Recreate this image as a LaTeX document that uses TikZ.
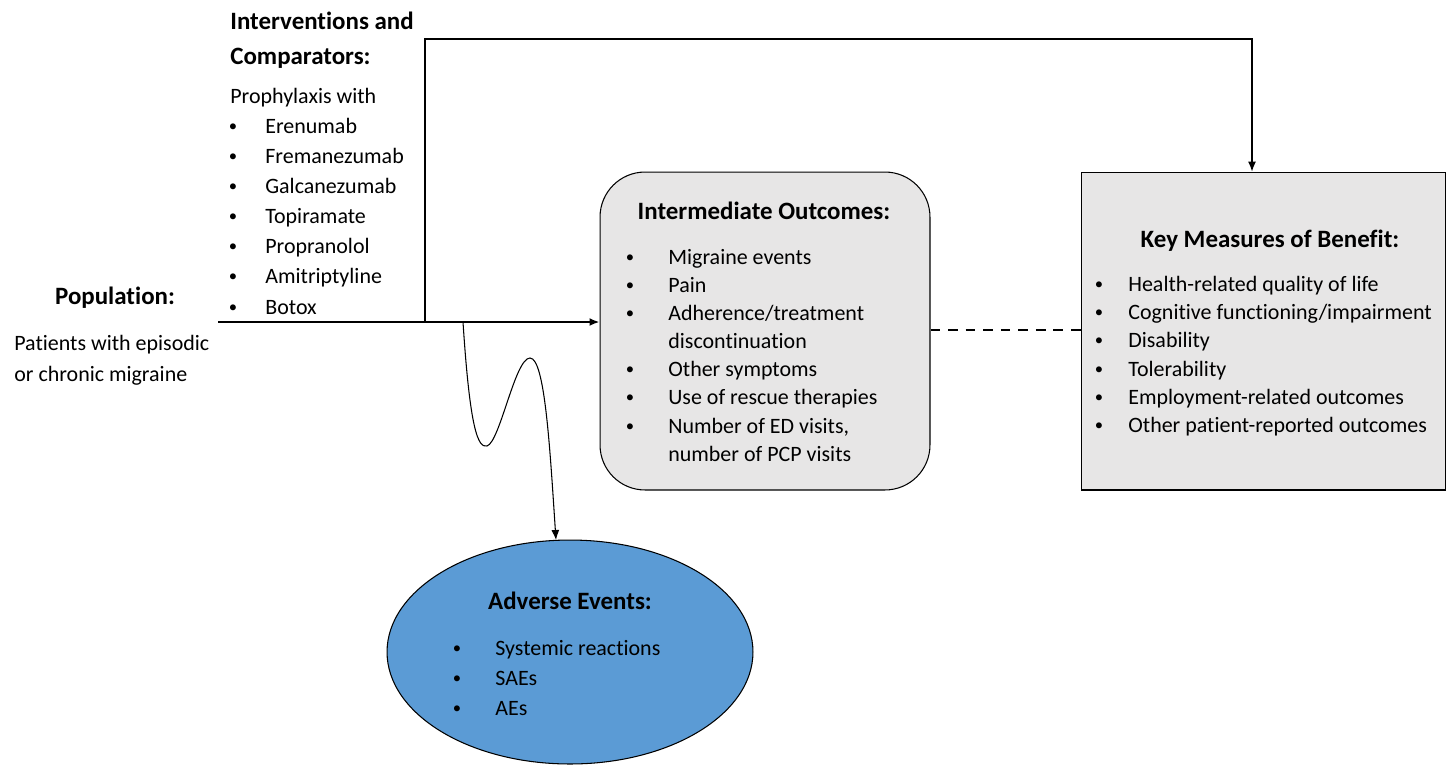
\documentclass[tikz,border=0pt]{standalone}
\usepackage{fontspec}
\setmainfont{Carlito}[Ligatures=NoCommon]
\usetikzlibrary{arrows.meta, positioning, shapes.geometric}
\definecolor{cBox}{RGB}{231,230,230}
\definecolor{cAE}{RGB}{91,155,213}
\tikzset{
	txt/.style  ={inner sep=0pt, anchor=west, yshift=-1.1pt, text height=1.6ex, text depth=0.4ex, font=\fontsize{12.5}{15}\selectfont},
	head/.style ={txt, font=\fontsize{14.2}{17}\selectfont\bfseries},
	bul/.style  ={inner sep=0pt, yshift=-0.6pt, font=\fontsize{9.5}{11}\selectfont},
	midbox/.style={rectangle, rounded corners=0.9cm, draw=black, line width=0.6pt, fill=cBox, minimum width=6.6cm, minimum height=6.36cm},
	keybox/.style={rectangle, draw=black, line width=0.6pt, fill=cBox, minimum width=7.3cm, minimum height=6.36cm},
	aebox/.style ={ellipse, draw=black, line width=0.6pt, fill=cAE, minimum width=7.32cm, minimum height=4.48cm, inner sep=0pt},
	link/.style ={-{Latex[length=2mm, width=1.6mm]}, line width=0.6pt},
	mainlink/.style={-{Latex[length=2mm, width=1.6mm]}, line width=1.1pt},
}
\begin{document}
\begin{tikzpicture}[x=0.02cm, y=-0.02cm]
	\useasboundingbox (0,0) rectangle (1446,765);
	% boxes
	\node[midbox] (mid) at (765,331) {};
	\node[keybox] (key) at (1263.5,331) {};
	\node[aebox] (ae) at (570,652) {};
	% population
	\node[head, anchor=center] (pop) at (115,298) {Population:};
	\node[txt] (pop1) at (14,344) {Patients with episodic};
	\node[txt] (pop2) at (14,375) {or chronic migraine};
	% interventions
	\node[head] (int1) at (230,23) {Interventions and};
	\node[head] (int2) at (230,58) {Comparators:};
	\node[txt] (int3) at (230,97) {Prophylaxis with};
	\foreach \y/\t in {127/Erenumab, 157/Fremanezumab, 187/Galcanezumab, 217/Topiramate, 247/Propranolol, 277/Amitriptyline, 308/Botox} {
		\node[bul] at (233,\y) {\textbullet};
		\node[txt] at (265,\y) {\t};
	}
	% intermediate outcomes
	\node[head, anchor=center] (midtitle) at (764,213) {Intermediate Outcomes:};
	\foreach \y/\t in {258/Migraine events, 286/Pain, 314/{Adherence/treatment}, 370/Other symptoms, 398/Use of rescue therapies, 427/{Number of ED visits,}} {
		\node[bul] at (630,\y) {\textbullet};
		\node[txt] at (668,\y) {\t};
	}
	\node[txt] at (668,342) {discontinuation};
	\node[txt] at (668,455) {number of PCP visits};
	% key measures
	\node[head, anchor=center] (keytitle) at (1270,241) {Key Measures of Benefit:};
	\foreach \y/\t in {285/Health-related quality of life, 313/{Cognitive functioning/impairment}, 341/Disability, 370/Tolerability, 398/Employment-related outcomes, 426/Other patient-reported outcomes} {
		\node[bul] at (1099,\y) {\textbullet};
		\node[txt] at (1128,\y) {\t};
	}
	% adverse events
	\node[head, anchor=center] (aetitle) at (570,603) {Adverse Events:};
	\foreach \y/\t in {649/Systemic reactions, 679/SAEs, 709/AEs} {
		\node[bul] at (457,\y) {\textbullet};
		\node[txt] at (495,\y) {\t};
	}
	% connectors
	\coordinate (start) at (218,322);
	\coordinate (branch) at (425,322);
	\coordinate (wave) at (463,322);
	\coordinate (topright) at (1252,39);
	\draw[mainlink] (start) -- (start -| mid.west);
	\draw[link] (branch) |- (topright) -- (topright |- key.north);
	\draw[link] (wave) .. controls (470,430) and (478,448) .. (487,446)
		.. controls (500,442) and (515,358) .. (530,358)
		.. controls (545,358) and (550,450) .. (556,540);
	\draw[line width=1.1pt, dash pattern=on 5.5pt off 4.5pt] (mid.east |- 0,330) -- (key.west |- 0,330);
\end{tikzpicture}
\end{document}
